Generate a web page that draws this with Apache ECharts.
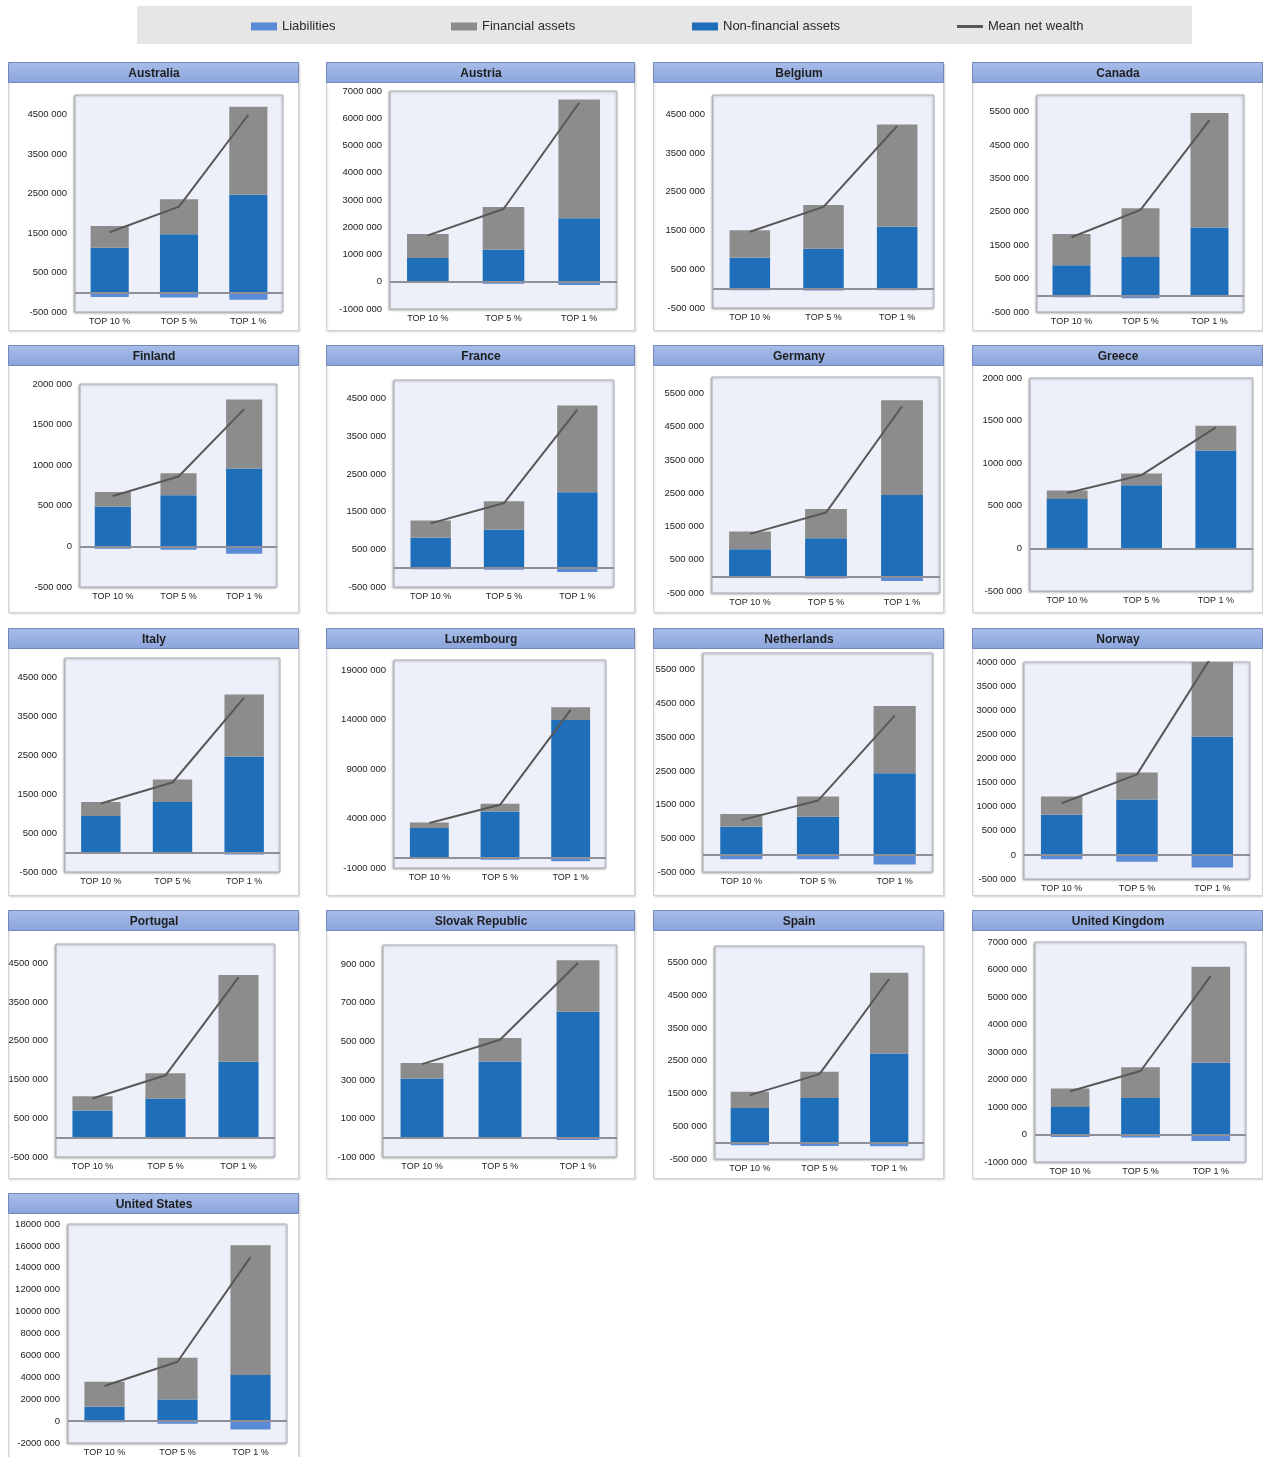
<!DOCTYPE html>
<html><head><meta charset="utf-8">
<script src="https://cdn.jsdelivr.net/npm/echarts@6/dist/echarts.min.js"></script>
<style>html,body{margin:0;padding:0;background:#fff}#c{width:1263px;height:1457px}</style>
</head><body><div id="c"></div><script>
// ---------- DATA ----------
const countries = ['Australia','Austria','Belgium','Canada','Finland','France','Germany','Greece',
  'Italy','Luxembourg','Netherlands','Norway','Portugal','Slovak Republic','Spain','United Kingdom','United States'];
const categories = ['TOP 10 %','TOP 5 %','TOP 1 %'];
const liabilities = [
  [-120000,-130000,-190000],[-50000,-70000,-120000],[-40000,-50000,-40000],[-60000,-90000,-30000],
  [-30000,-40000,-90000],[-30000,-40000,-100000],[-40000,-60000,-140000],[-20000,-20000,-20000],
  [-20000,-40000,-50000],[-60000,-160000,-330000],[-120000,-120000,-280000],[-90000,-140000,-260000],
  [-10000,-20000,-30000],[-4000,-6000,-12000],[-80000,-100000,-110000],[-90000,-110000,-240000],
  [-100000,-240000,-760000]];
const nonFinancialAssets = [
  [1130000,1470000,2470000],[870000,1170000,2330000],[800000,1030000,1600000],[900000,1150000,2030000],
  [490000,630000,960000],[810000,1020000,2020000],[820000,1150000,2450000],[580000,740000,1150000],
  [940000,1300000,2470000],[3030000,4710000,13950000],[840000,1140000,2430000],[830000,1150000,2450000],
  [700000,1010000,1960000],[307000,396000,654000],[1060000,1360000,2720000],[1000000,1330000,2610000],
  [1310000,1980000,4200000]];
const financialAssets = [
  [550000,890000,2230000],[880000,1570000,4360000],[710000,1130000,2640000],[940000,1460000,3430000],
  [180000,270000,850000],[460000,760000,2300000],[530000,880000,2850000],[100000,140000,290000],
  [360000,580000,1590000],[570000,770000,1280000],[380000,600000,2000000],[380000,560000,1950000],
  [370000,650000,2240000],[81000,121000,267000],[490000,800000,2460000],[670000,1120000,3490000],
  [2290000,3810000,11850000]];
const meanNetWealth = [
  [1520000,2170000,4500000],[1700000,2670000,6570000],[1470000,2110000,4200000],[1740000,2560000,5250000],
  [620000,860000,1690000],[1190000,1730000,4210000],[1280000,1920000,5120000],[650000,860000,1420000],
  [1260000,1800000,3980000],[3540000,5380000,14960000],[1040000,1620000,4140000],[1070000,1670000,4140000],
  [1010000,1610000,4140000],[382000,508000,907000],[1450000,2090000,5000000],[1570000,2310000,5770000],
  [3200000,5420000,14980000]];
const axisMin  = [-500000,-1000000,-500000,-500000,-500000,-500000,-500000,-500000,
  -500000,-1000000,-500000,-500000,-500000,-100000,-500000,-1000000,-2000000];
const axisMax  = [5000000,7000000,5000000,6000000,2000000,5000000,6000000,2000000,
  5000000,20000000,6000000,4000000,5000000,1000000,6000000,7000000,18000000];
const axisStep = [1000000,1000000,1000000,1000000,500000,1000000,1000000,500000,
  1000000,5000000,1000000,500000,1000000,200000,1000000,1000000,2000000];

// ---------- LAYOUT ----------
const colX = [[8,298],[326,634],[653,943],[972,1262]];
const rowY = [[62,330],[345,612],[628,895],[910,1178],[1193,1475]];
const plotBox = [
  [75,95,283,312],[390,91,617,309],[713,95,934,308],[1037,95,1244,312],
  [80,384,277,587],[394,380,614,587],[712,377,940,593],[1030,378,1253,591],
  [65,658,280,872],[394,660,606,868],[703,653,933,872],[1024,662,1250,879],
  [56,944,275,1157],[383,945,617,1157],[715,946,924,1159],[1035,942,1246,1162],
  [68,1224,287,1443]];

const C_LIAB = '#5b8ad6', C_NFA = '#1e6eb9', C_FA = '#8c8c8c', C_LINE = '#585858';
const FONT = 'Liberation Sans, Arial, sans-serif';

function fmt(v){
  if (v === 0) return '0';
  const a = Math.abs(v);
  return (v < 0 ? '-' : '') + Math.floor(a/1000) + ' ' + String(Math.round(a%1000)).padStart(3,'0');
}

const grids=[], xAxes=[], yAxes=[], series=[], titles=[];
const graphics = [
  {type:'rect', shape:{x:137,y:6,width:1055,height:38}, style:{fill:'#e6e6e6'}, z:-5}
];

countries.forEach((name,i)=>{
  const col = i % 4, row = Math.floor(i/4);
  const [x0,x1] = colX[col], [y0,y1] = rowY[row];
  graphics.push({type:'rect', shape:{x:x0+0.5,y:y0+0.5,width:x1-x0,height:y1-y0},
    style:{fill:'#ffffff', stroke:'#cfd2d8', lineWidth:1, shadowColor:'rgba(0,0,0,0.12)', shadowBlur:2, shadowOffsetX:1, shadowOffsetY:1}, z:-4});
  graphics.push({type:'rect', shape:{x:x0+0.5,y:y0+0.5,width:x1-x0,height:20},
    style:{fill:new echarts.graphic.LinearGradient(0,0,0,1,[{offset:0,color:'#a8bde9'},{offset:1,color:'#8aa4dc'}]),
      stroke:'#7489ba', lineWidth:1}, z:-3});
  titles.push({text:name, left:(x0+x1)/2 + 1, top:y0+6, padding:0, textAlign:'center',
    textStyle:{fontSize:12, fontWeight:'bold', color:'#1e1e1e', fontFamily:FONT}});

  const [l,t,r,b] = plotBox[i];
  grids.push({left:l, top:t, width:r-l, height:b-t, show:true, backgroundColor:'#edf0f8',
    borderColor:'#a9acb5', borderWidth:1, shadowColor:'rgba(0,0,0,0.25)', shadowBlur:2, shadowOffsetX:-1, shadowOffsetY:1,
    containLabel:false, outerBoundsMode:'none'});
  xAxes.push({type:'category', gridIndex:i, data:categories, position:'bottom',
    axisLine:{show:false, onZero:false}, axisTick:{show:false}, splitLine:{show:false},
    axisLabel:{interval:0, margin:5, fontSize:9, color:'#222', fontFamily:FONT}});
  const aligned = ((axisMax[i]-axisMin[i]) % axisStep[i]) === 0;
  yAxes.push({type:'value', gridIndex:i, min:axisMin[i], max:axisMax[i], interval:axisStep[i],
    axisLine:{show:false}, axisTick:{show:false}, splitLine:{show:false},
    axisLabel:{margin:8, fontSize:9.5, color:'#222', fontFamily:FONT, formatter:fmt, showMaxLabel:aligned, showMinLabel:true}});
  const stack = 's'+i;
  series.push({name:'Liabilities', type:'bar', xAxisIndex:i, yAxisIndex:i, stack, barWidth:'55%',
    data:liabilities[i], itemStyle:{color:C_LIAB}});
  series.push({name:'Non-financial assets', type:'bar', xAxisIndex:i, yAxisIndex:i, stack, barWidth:'55%',
    data:nonFinancialAssets[i], itemStyle:{color:C_NFA}});
  series.push({name:'Financial assets', type:'bar', xAxisIndex:i, yAxisIndex:i, stack, barWidth:'55%',
    data:financialAssets[i], itemStyle:{color:C_FA}});
  series.push({name:'Mean net wealth', type:'line', xAxisIndex:i, yAxisIndex:i, data:meanNetWealth[i],
    symbol:'none', z:4, lineStyle:{color:C_LINE, width:2}, itemStyle:{color:C_LINE},
    markLine:{silent:true, symbol:'none', label:{show:false},
      lineStyle:{color:'#8e8f99', width:2, type:'solid'}, data:[{yAxis:0}]}});
});

const legendBase = {top:20, padding:0, itemWidth:26, itemHeight:8, itemGap:0, selectedMode:false,
  textStyle:{fontSize:13, color:'#2a2a2a', fontFamily:FONT}};
const legends = [
  Object.assign({}, legendBase, {left:251, data:[{name:'Liabilities', icon:'rect'}]}),
  Object.assign({}, legendBase, {left:451, data:[{name:'Financial assets', icon:'rect'}]}),
  Object.assign({}, legendBase, {left:692, data:[{name:'Non-financial assets', icon:'rect'}]}),
  Object.assign({}, legendBase, {left:957, itemHeight:3, data:[{name:'Mean net wealth', icon:'rect'}]})
];

const chart = echarts.init(document.getElementById('c'), null, {renderer:'canvas'});
chart.setOption({
  animation:false,
  textStyle:{fontFamily:FONT},
  title:titles, legend:legends, grid:grids, xAxis:xAxes, yAxis:yAxes, series,
  graphic:{elements:graphics}
});
</script></body></html>
